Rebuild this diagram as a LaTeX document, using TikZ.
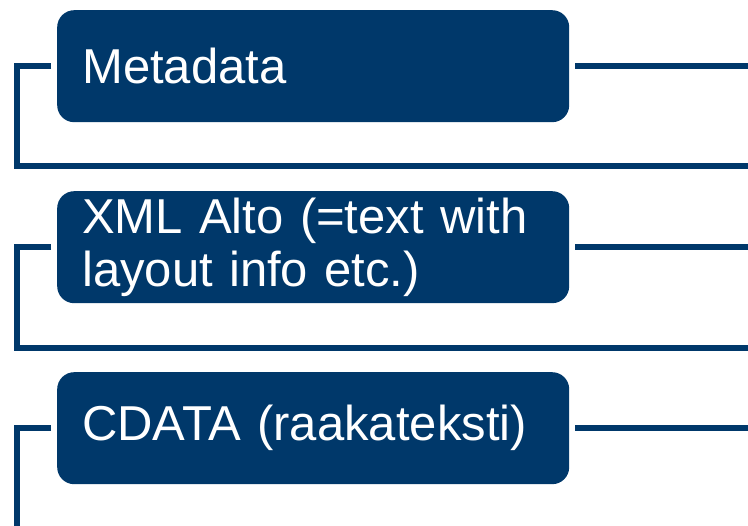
\documentclass[tikz,border=0pt]{standalone}
\usepackage{fontspec}
\setmainfont{Liberation Sans}
\definecolor{darkblue}{RGB}{0,56,106}
\begin{document}
\begin{tikzpicture}[x=1pt, y=-1pt,
	box/.style = {fill=darkblue, rounded corners=17pt, text=white, anchor=north west,
		minimum width=512pt, minimum height=112pt, text width=462pt, inner xsep=25pt,
		align=left, font=\fontsize{49}{53}\selectfont},
	conn/.style = {darkblue, line width=5.5pt}]
	\useasboundingbox (0,0) rectangle (748,526);
	
	\node[box] (meta) at (57,10) {Metadata};
	\node[box] (alto) at (57,191) {XML Alto (=text with\\layout info etc.)};
	\node[box] (cdata) at (57,372) {CDATA (raakateksti)};
	
	\coordinate[](sep1) at (760,166) ;
	\coordinate[](sep2) at (760,348) ;
	\coordinate[](bottom) at (17,540) ;
	
	% lines out to the right
	\draw[conn] ([xshift=6pt]meta.east) -- ++(200,0);
	\draw[conn] ([xshift=6pt]alto.east) -- ++(200,0);
	\draw[conn] ([xshift=6pt]cdata.east) -- ++(200,0);
	
	% brackets on the left
	\draw[conn] ([xshift=-6pt]meta.west) -- ++(-34,0) |- (sep1);
	\draw[conn] ([xshift=-6pt]alto.west) -- ++(-34,0) |- (sep2);
	\draw[conn] ([xshift=-6pt]cdata.west) -- ++(-34,0) -- (bottom);
\end{tikzpicture}
\end{document}
